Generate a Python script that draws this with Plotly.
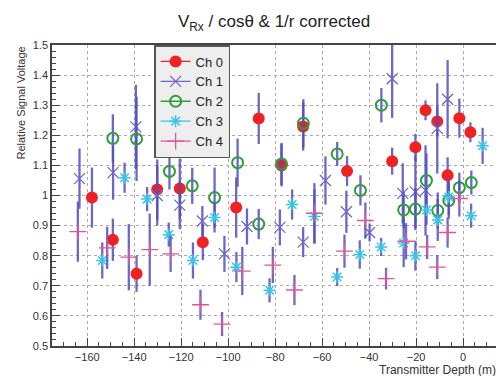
import plotly.graph_objects as go

# ---- data ----
ch0_x = [-158, -149.1, -139, -130.2, -120.6, -110.8, -96.6, -87, -77.3, -68.1, -49.4, -30.2, -20.3, -16, -11, -6.6, -1.6, 3.1]
ch0_y = [0.993, 0.853, 0.74, 1.02, 1.023, 0.845, 0.96, 1.256, 1.10, 1.229, 1.081, 1.114, 1.16, 1.283, 1.246, 1.067, 1.257, 1.21]
ch0_e = [0.10, 0.07, 0.06, 0.10, 0.10, 0.06, 0.10, 0.085, 0.07, 0.08, 0.05, 0.045, 0.045, 0.033, 0.05, 0.06, 0.065, 0.033]

ch1_x = [-163.3, -149, -139.3, -130.2, -120.6, -111, -101.6, -92, -78, -68.1, -58.6, -49.7, -39.8, -30.2, -25.7, -20.3, -16, -11, -6.6]
ch1_y = [1.056, 1.076, 1.228, 1.0, 0.968, 0.915, 0.806, 0.897, 0.894, 0.845, 1.05, 0.946, 0.877, 1.388, 1.007, 1.012, 1.017, 1.223, 1.32]
ch1_e = [0.10, 0.09, 0.14, 0.10, 0.08, 0.05, 0.06, 0.06, 0.06, 0.05, 0.08, 0.07, 0.03, 0.13, 0.10, 0.12, 0.15, 0.15, 0.13]

ch2_x = [-149.1, -139, -125, -115.3, -105.8, -96, -87, -77.3, -68, -53.6, -43.7, -34.8, -25.3, -20.3, -15.6, -10.8, -6.1, -1.6, 3.5]
ch2_y = [1.19, 1.188, 1.08, 1.032, 0.993, 1.109, 0.905, 1.105, 1.24, 1.138, 1.017, 1.30, 0.952, 0.955, 1.05, 0.95, 0.983, 1.026, 1.043]
ch2_e = [0.08, 0.14, 0.06, 0.06, 0.10, 0.08, 0.05, 0.07, 0.08, 0.04, 0.05, 0.057, 0.06, 0.07, 0.09, 0.06, 0.06, 0.05, 0.04]

ch3_x = [-153.6, -144.1, -134.5, -125.3, -115, -105.8, -96.5, -82.4, -72.8, -63.3, -53.6, -44, -34.9, -25.3, -20.3, -15.6, -10.8, -6.1, 3.4, 8.3]
ch3_y = [0.784, 1.059, 0.988, 0.87, 0.784, 0.927, 0.762, 0.685, 0.97, 0.93, 0.729, 0.804, 0.829, 0.842, 0.80, 0.952, 0.919, 0.995, 0.933, 1.165]
ch3_e = [0.06, 0.05, 0.04, 0.04, 0.06, 0.05, 0.05, 0.04, 0.05, 0.09, 0.03, 0.047, 0.03, 0.08, 0.05, 0.05, 0.07, 0.06, 0.04, 0.06]

ch4_x = [-164, -151.5, -142.3, -133.4, -124.5, -111.8, -102.6, -94, -81, -71.8, -63.3, -50.5, -41.6, -32.8, -24.3, -15.3, -11, -6.6, -1.6]
ch4_y = [0.88, 0.826, 0.795, 0.82, 0.806, 0.637, 0.573, 0.749, 0.769, 0.686, 0.941, 0.815, 0.917, 0.724, 0.848, 0.829, 0.762, 0.877, 0.99]
ch4_e = [0.10, 0.07, 0.11, 0.12, 0.06, 0.05, 0.04, 0.08, 0.06, 0.05, 0.10, 0.055, 0.06, 0.036, 0.06, 0.04, 0.04, 0.05, 0.06]

names = ["Ch 0", "Ch 1", "Ch 2", "Ch 3", "Ch 4"]
colors = ["#ee2222", "#6f68c8", "#2f9e3a", "#36c6ea", "#e0559a"]
symbols = ["circle", "x-thin-open", "circle-open", "asterisk-open", "cross-thin-open"]
sizes = [12, 11, 11, 10, 12]
lwidths = [0, 1.3, 2, 1.5, 1.3]

series = [(ch0_x, ch0_y, ch0_e), (ch1_x, ch1_y, ch1_e), (ch2_x, ch2_y, ch2_e),
          (ch3_x, ch3_y, ch3_e), (ch4_x, ch4_y, ch4_e)]

FONT = "Liberation Sans, Arial, sans-serif"
errcol = "rgba(82,78,190,0.85)"

fig = go.Figure()
for i, (xs, ys, es) in enumerate(series):
    fig.add_trace(go.Scatter(
        x=xs, y=ys, mode="markers", showlegend=False,
        error_y=dict(type="data", array=es, visible=True, color=errcol, thickness=2.3, width=0),
        marker=dict(symbol=symbols[i], size=sizes[i], color=colors[i],
                    line=dict(color=colors[i], width=lwidths[i])),
    ))
# legend entries (marker with line, as in the reference)
for i in range(5):
    fig.add_trace(go.Scatter(
        x=[None], y=[None], mode="lines+markers", name=names[i],
        line=dict(color=colors[i], width=1.3),
        marker=dict(symbol=symbols[i], size=sizes[i], color=colors[i],
                    line=dict(color=colors[i], width=lwidths[i])),
    ))

fig.update_layout(
    width=496, height=376,
    margin=dict(l=52, r=0, t=45, b=30),
    paper_bgcolor="white", plot_bgcolor="white",
    font=dict(family=FONT, color="#333", size=11),
    title=dict(text="V<sub>Rx</sub> / cosθ &amp; 1/r corrected",
               x=0.5, xref="paper", xanchor="center",
               y=1 - 21 / 376, yref="container", yanchor="middle",
               font=dict(family=FONT, size=17, color="#222")),
    legend=dict(x=0.23, y=1.0, xanchor="left", yanchor="top",
                bgcolor="#eeeeee", bordercolor="#555", borderwidth=1.5,
                font=dict(family=FONT, size=13, color="#222"),
                itemwidth=30, tracegroupgap=0),
    showlegend=True,
)
fig.update_xaxes(
    range=[-175, 14], dtick=20, tick0=0,
    ticks="inside", ticklen=8, tickwidth=1.3, tickcolor="#444",
    minor=dict(dtick=5, ticks="inside", ticklen=4, tickcolor="#444", showgrid=False),
    showgrid=True, gridcolor="#aaaaaa", griddash="dot", gridwidth=1,
    showline=True, linecolor="#444", linewidth=1.5, mirror=True,
    zeroline=False, tickfont=dict(size=11, color="#333"),
)
fig.update_yaxes(
    range=[0.5, 1.5], dtick=0.1, tick0=0.5,
    ticks="inside", ticklen=8, tickwidth=1.3, tickcolor="#444",
    minor=dict(dtick=0.02, ticks="inside", ticklen=4, tickcolor="#444", showgrid=False),
    showgrid=True, gridcolor="#aaaaaa", griddash="dot", gridwidth=1,
    showline=True, linecolor="#444", linewidth=1.5, mirror=False,
    zeroline=False, tickfont=dict(size=11, color="#333"),
)
fig.add_annotation(text="Transmitter Depth (m)", xref="paper", yref="paper",
                   x=(377 - 52) / 444, y=-(370 - 346) / 301, xanchor="left", yanchor="middle",
                   showarrow=False, font=dict(family=FONT, size=12, color="#333"))
fig.add_annotation(text="Relative Signal Voltage", xref="paper", yref="paper",
                   x=-(52 - 20) / 444, y=1.0, xanchor="center", yanchor="top", textangle=-90,
                   showarrow=False, font=dict(family=FONT, size=11, color="#333"))

fig.write_html("out.html")
